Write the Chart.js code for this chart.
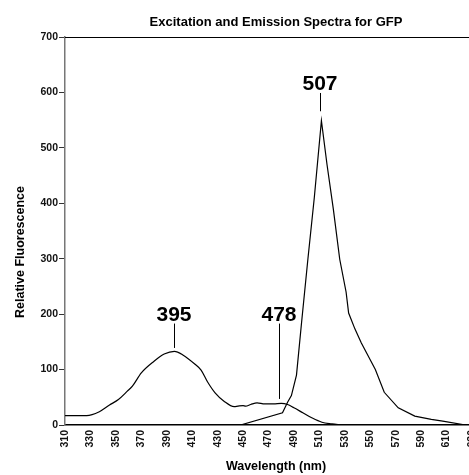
<!DOCTYPE html>
<html>
<head>
<meta charset="utf-8">
<script src="https://cdn.jsdelivr.net/npm/chart.js@4"></script>
<style>
  html, body { margin: 0; padding: 0; background: #fff; overflow: hidden; }
  canvas { display: block; }
</style>
</head>
<body>
<canvas id="gfpChart" width="480" height="475"></canvas>
<script>
// excitation spectrum (nm, relative fluorescence)
const exWavelength = [310, 327, 337, 345, 352, 359, 363, 370, 380, 388, 396, 403, 412, 417, 422, 428, 435, 443, 446, 450, 452, 456, 461, 467, 474, 480, 485, 490, 497, 504, 512, 520, 527];
const exValue      = [17, 17, 24, 36, 46, 61, 70, 94, 115, 128, 133, 126, 110, 99, 78, 58, 43, 33, 34, 35, 34, 37, 40, 38, 38, 39, 37, 31, 22, 13, 5, 2, 0];

// emission spectrum
const emWavelength = [448, 481, 485, 488, 492, 496, 501, 506, 511.6, 516, 521, 526, 531, 533, 538, 543, 554, 561, 572, 585, 598, 607, 625];
const emValue      = [0, 22, 41, 53, 90, 185, 300, 410, 549, 470, 389, 299, 240, 202, 173, 148, 100, 59, 31, 16, 10, 7, 0];

const yTicks = [0, 100, 200, 300, 400, 500, 600, 700];

// peak labels: text, x of leader (nm), label baseline and leader top/bottom values
const peakText    = ['395', '478', '507'];
const peakNm      = [395.5, 478, 510.5];
const peakLabelY  = [187, 187, 604];
const peakLineTop = [183, 183, 599];
const peakLineBot = [139, 47, 566];

const FONT = "'Liberation Sans', Arial, Helvetica, sans-serif";

function toPts(xs, ys) {
    return xs.map((x, i) => ({ x: x, y: ys[i] }));
}

const decorPlugin = {
    id: 'decor',
    afterDraw(chart) {
        const { ctx, chartArea, scales } = chart;
        const xs = scales.x, ys = scales.y;
        ctx.save();

        // top border
        ctx.strokeStyle = '#000';
        ctx.lineWidth = 1.2;
        ctx.beginPath();
        ctx.moveTo(chartArea.left, chartArea.top + 0.5);
        ctx.lineTo(chartArea.right + 20, chartArea.top + 0.5);
        ctx.stroke();

        // peak labels + leader lines
        ctx.fillStyle = '#000';
        ctx.textAlign = 'center';
        ctx.textBaseline = 'alphabetic';
        ctx.font = 'bold 21px ' + FONT;
        ctx.lineWidth = 1;
        peakText.forEach((t, i) => {
            const px = Math.round(xs.getPixelForValue(peakNm[i])) + 0.5;
            ctx.fillText(t, px - 0.5, ys.getPixelForValue(peakLabelY[i]));
            ctx.beginPath();
            ctx.moveTo(px, ys.getPixelForValue(peakLineTop[i]));
            ctx.lineTo(px, ys.getPixelForValue(peakLineBot[i]));
            ctx.stroke();
        });

        // chart title
        ctx.font = 'bold 13px ' + FONT;
        ctx.fillText('Excitation and Emission Spectra for GFP', 276, 26);

        // axis titles
        ctx.font = 'bold 12.5px ' + FONT;
        ctx.fillText('Wavelength (nm)', 276, 470);
        ctx.translate(24, 252);
        ctx.rotate(-Math.PI / 2);
        ctx.fillText('Relative Fluorescence', 0, 0);

        ctx.restore();
    }
};

const tickFont = { family: FONT, size: 10.5, weight: 'bold' };

new Chart(document.getElementById('gfpChart'), {
    type: 'line',
    data: {
        datasets: [
            {
                label: 'Excitation',
                data: toPts(exWavelength, exValue),
                borderColor: '#000',
                borderWidth: 1.2,
                pointRadius: 0,
                tension: 0.4,
                cubicInterpolationMode: 'monotone',
                fill: false
            },
            {
                label: 'Emission',
                data: toPts(emWavelength, emValue),
                borderColor: '#000',
                borderWidth: 1.2,
                pointRadius: 0,
                tension: 0,
                fill: false
            }
        ]
    },
    options: {
        responsive: false,
        animation: false,
        devicePixelRatio: 1,
        layout: { padding: { top: 37, left: 0, right: 8, bottom: 0 } },
        plugins: {
            legend: { display: false },
            title: { display: false },
            tooltip: { enabled: false }
        },
        scales: {
            x: {
                type: 'linear',
                min: 310,
                max: 630,
                afterFit(scale) {
                    scale.height = 50;
                    scale.paddingLeft = 0;
                    scale.paddingRight = 0;
                },
                border: { display: true, color: '#000', width: 1.5 },
                grid: { display: false, drawTicks: false },
                ticks: {
                    stepSize: 20,
                    autoSkip: false,
                    minRotation: 90,
                    maxRotation: 90,
                    padding: 5,
                    color: '#111',
                    font: tickFont
                }
            },
            y: {
                min: 0,
                max: 700,
                afterFit(scale) {
                    scale.width = 65;
                    scale.paddingTop = 0;
                    scale.paddingBottom = 0;
                },
                afterBuildTicks(scale) { scale.ticks = yTicks.map(v => ({ value: v })); },
                border: { display: true, color: '#777', width: 1.5 },
                grid: { drawOnChartArea: false, drawTicks: true, tickLength: 6, color: '#333' },
                ticks: {
                    padding: 1,
                    color: '#111',
                    font: tickFont
                }
            }
        }
    },
    plugins: [decorPlugin]
});
</script>
</body>
</html>
